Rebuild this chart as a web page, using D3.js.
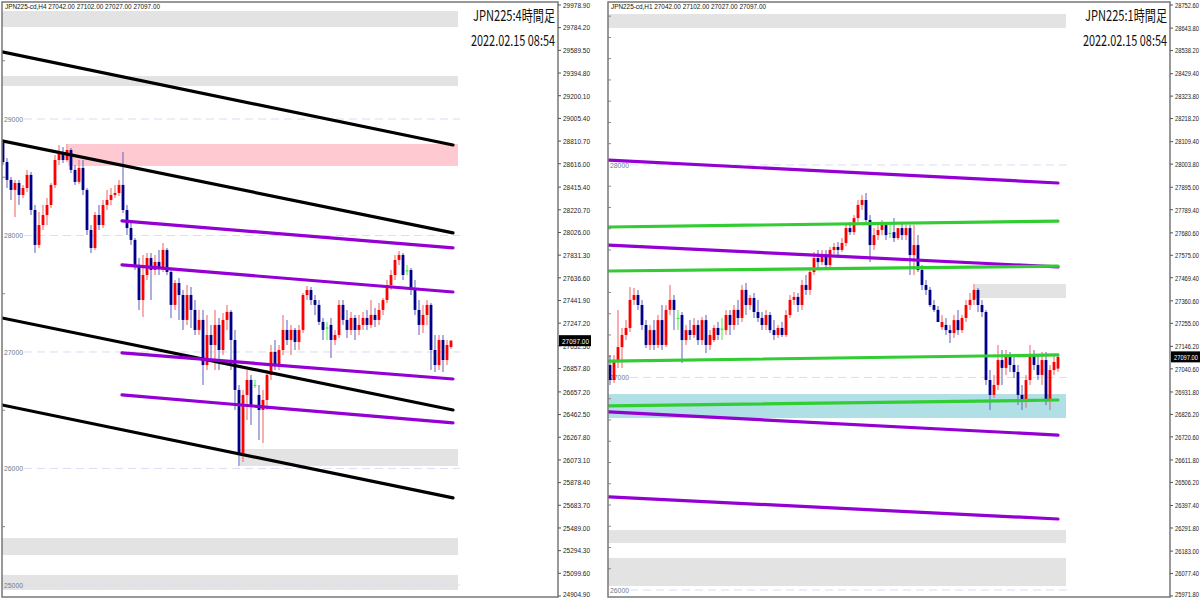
<!DOCTYPE html>
<html><head><meta charset="utf-8">
<script src="https://cdn.jsdelivr.net/npm/d3@7"></script>
<style>body{margin:0;background:#fff;}svg{display:block;}</style>
</head><body>
<svg id="c" width="1200" height="599"></svg>
<script>
// ---------------- DATA ----------------
// H4 chart (left)
const h4Open=[28794,28631,28477,28391,28451,28348,28408,28520,28219,27919,28090,28176,28262,28434,28648,28717,28648,28734,28563,28460,28580,28391,28047,27893,28176,28090,28262,28305,28348,28365,28434,28219,28064,27962,27747,27446,27661,27807,27704,27773,27721,27876,27687,27404,27592,27489,27275,27489,27361,27189,27275,26888,27146,27060,27232,27017,27275,27344,27103,26674,26116,26631,26760,26717,26631,26502,26588,26803,27000,26888,27017,27189,27103,27189,27086,27189,27489,27532,27446,27404,27258,27210,27232,27103,27146,27404,27275,27189,27292,27189,27232,27292,27232,27318,27275,27361,27446,27575,27661,27790,27833,27700,27704,27532,27361,27232,27318,27404,27017,26888,27103,26931,27042];
const h4High=[28820,28666,28503,28477,28477,28434,28563,28546,28262,28202,28262,28322,28451,28691,28777,28760,28786,28751,28605,28648,28648,28408,28090,28202,28262,28305,28391,28408,28434,28477,28717,28262,28116,27979,27807,27833,27850,27850,27833,27876,27936,27893,27721,27618,27635,27532,27575,27558,27446,27361,27361,27318,27232,27361,27292,27335,27404,27361,27189,26717,26674,26846,26803,26760,26717,26674,26846,27060,27103,27060,27318,27275,27232,27206,27232,27506,27566,27558,27489,27446,27292,27258,27292,27189,27446,27446,27361,27344,27318,27318,27344,27361,27446,27378,27421,27464,27618,27704,27833,27867,27850,27747,27721,27618,27446,27404,27446,27421,27146,27146,27146,27103,27102];
const h4Low=[28605,28408,28305,28159,28262,28322,28374,28176,27850,27893,28047,28090,28236,28408,28605,28622,28631,28537,28434,28443,28348,28004,27850,27876,28047,28064,28219,28262,28322,28340,28193,28004,27919,27704,27361,27301,27618,27446,27661,27661,27687,27661,27292,27361,27275,27189,27232,27206,27146,27146,26717,26846,26931,26846,26846,26974,27189,26846,26502,26021,26056,26416,26373,26690,26245,26219,26502,26760,26846,26846,26974,27060,26974,27017,27017,27163,27446,27404,27318,27232,27103,27103,26948,27060,27120,27232,27120,27146,27103,27146,27189,27189,27206,27215,27232,27318,27421,27532,27618,27747,27618,27661,27489,27318,27146,27163,27232,26846,26828,26846,26828,26888,27027];
const h4Close=[28631,28477,28391,28451,28348,28408,28520,28219,27919,28090,28176,28262,28434,28648,28717,28648,28734,28563,28460,28580,28391,28047,27893,28176,28090,28262,28305,28348,28365,28434,28219,28064,27962,27747,27446,27661,27807,27704,27773,27721,27876,27687,27404,27592,27489,27275,27489,27361,27189,27275,26888,27146,27060,27232,27017,27275,27344,27103,26674,26116,26631,26760,26545,26717,26502,26588,26803,27000,26888,27017,27189,27103,27189,27086,27189,27489,27532,27446,27404,27258,27189,27210,27103,27146,27404,27275,27189,27292,27189,27232,27292,27232,27318,27275,27361,27446,27575,27661,27790,27833,27661,27700,27532,27361,27232,27318,27404,27017,26888,27103,26931,27060,27097];
const h4Ticks=["29978.90","29784.20","29589.50","29394.80","29200.10","29005.40","28810.70","28616.00","28415.40","28220.70","28026.00","27831.30","27636.60","27441.90","27247.20","27052.50","26857.80","26657.20","26462.50","26267.80","26073.10","25878.40","25683.70","25489.00","25294.30","25099.60","24904.90"];
const h4Grid=[29000,28000,27000,26000,25000];
const h4Minor=[29500,28500,27500,26500,25500];
// trend lines: start bar, start price, end bar, end price, kind
const h4LineFrom=[-0.25,-0.25,-0.25,-0.25,29.75,29.75,29.75,29.75];
const h4LinePriceFrom=[29576,28812,27292,26545,28125,27747,26992,26631];
const h4LineTo=[112.5,112.5,112.5,112.5,112.5,112.5,112.5,112.5];
const h4LinePriceTo=[28777,28022,26502,25747,27893,27515,26768,26391];
const h4LineKind=["channel","channel","channel","channel","sub","sub","sub","sub"];
// zones: from bar, to bar, top price, bottom price, kind
const h4ZoneFrom=[-2,-2,16.25,59.25,-2,-2];
const h4ZoneTo=[113.75,113.75,113.75,113.75,113.75,113.75];
const h4ZoneTop=[29927,29369,28786,26167,25403,25086];
const h4ZoneBottom=[29790,29283,28597,26021,25257,24957];
const h4ZoneKind=["gray","gray","pink","gray","gray","gray"];

// H1 chart (right)
const h1Open=[27059,26988,27082,27143,27200,27233,27365,27388,27341,27247,27153,27223,27153,27270,27153,27318,27365,27280,27294,27176,27223,27200,27247,27176,27270,27153,27176,27233,27230,27223,27294,27247,27318,27280,27412,27341,27374,27308,27280,27247,27294,27223,27200,27233,27200,27294,27365,27379,27341,27435,27412,27496,27562,27543,27576,27529,27600,27614,27600,27633,27703,27684,27750,27812,27835,27741,27623,27670,27694,27717,27680,27684,27656,27703,27670,27703,27576,27623,27506,27435,27412,27341,27318,27237,27247,27223,27209,27270,27223,27280,27341,27365,27412,27341,27308,26988,26918,26965,27082,27045,27106,27059,27026,26918,26894,26988,27106,27059,27012,27082,26894,27035,27042];
const h1High=[27106,27106,27318,27233,27270,27426,27421,27412,27365,27270,27247,27270,27294,27341,27341,27435,27388,27318,27308,27247,27270,27280,27270,27284,27294,27223,27247,27261,27280,27318,27318,27341,27365,27435,27445,27388,27398,27365,27308,27318,27308,27270,27247,27261,27318,27388,27402,27398,27459,27482,27515,27590,27600,27600,27600,27614,27633,27638,27656,27722,27731,27765,27835,27859,27868,27765,27703,27717,27741,27731,27731,27750,27703,27731,27717,27717,27717,27670,27529,27459,27426,27365,27336,27294,27280,27247,27294,27318,27294,27365,27398,27440,27421,27365,27318,27035,27012,27153,27129,27129,27120,27106,27059,26965,27012,27153,27129,27106,27120,27120,27059,27106,27102];
const h1Low=[26965,26974,27045,27045,27176,27214,27341,27318,27223,27139,27129,27129,27139,27129,27143,27294,27223,27223,27068,27153,27176,27186,27153,27153,27115,27129,27167,27176,27176,27200,27200,27223,27247,27261,27294,27318,27280,27261,27223,27223,27209,27176,27186,27190,27190,27280,27341,27308,27318,27388,27388,27482,27515,27529,27515,27515,27581,27576,27590,27618,27670,27670,27731,27788,27717,27543,27600,27647,27670,27647,27656,27637,27647,27647,27647,27482,27482,27496,27412,27388,27332,27308,27261,27223,27200,27162,27186,27200,27209,27261,27318,27341,27308,27284,26965,26847,26904,26941,26965,27012,27026,26998,26871,26847,26857,26965,27035,26988,26965,26871,26847,27012,27027];
const h1Close=[26988,27082,27143,27200,27233,27365,27388,27341,27247,27153,27223,27153,27270,27153,27318,27365,27318,27280,27176,27223,27200,27247,27176,27270,27153,27200,27233,27200,27230,27294,27247,27318,27280,27412,27341,27374,27308,27280,27247,27294,27223,27200,27233,27200,27294,27365,27379,27341,27435,27412,27496,27562,27543,27576,27529,27600,27614,27600,27633,27703,27684,27750,27812,27835,27741,27623,27670,27694,27717,27670,27680,27656,27703,27670,27703,27576,27623,27506,27435,27412,27341,27318,27261,27261,27223,27209,27270,27223,27280,27341,27365,27412,27341,27308,26988,26918,26965,27082,27045,27106,27059,27026,26918,26894,26988,27106,27059,27012,27082,26894,27035,27073,27097];
const h1Ticks=["28752.60","28643.80","28538.20","28429.40","28323.80","28218.20","28109.40","28003.80","27895.00","27789.40","27680.60","27575.00","27469.40","27360.60","27255.00","27146.20","27040.60","26931.80","26826.20","26720.60","26611.80","26506.20","26397.40","26291.80","26183.00","26077.40","25971.80"];
const h1Grid=[28000,27000,26000];
const h1Minor=[28700,28600,28500,28400,28300,28200,28100,27900,27800,27700,27600,27500,27400,27300,27200,27100,26900,26800,26700,26600,26500,26400,26300,26200,26100];
const h1LineFrom=[-0.25,-0.25,-0.25,-0.25,-0.25,-0.25,-0.25,-0.25];
const h1LinePriceFrom=[28023,27623,26838,26438,27708,27501,27077,26866];
const h1LineTo=[112,112,112,112,112,112,112,112];
const h1LinePriceTo=[27915,27520,26729,26334,27736,27524,27106,26894];
const h1LineKind=["sub","sub","sub","sub","level","level","level","level"];
const h1ZoneFrom=[-0.5,91.25,-0.5,-0.5,-0.5];
const h1ZoneTo=[114,114,114,114,114];
const h1ZoneTop=[28710,27440,26922,26282,26151];
const h1ZoneBottom=[28644,27374,26809,26221,26019];
const h1ZoneKind=["gray","gray","cyan","gray","gray"];

const h4Title="JPN225:4時間足", h1Title="JPN225:1時間足";
const stamp="2022.02.15 08:54";
const h4Header="JPN225-cd,H4  27042.00 27102.00 27027.00 27097.00";
const h1Header="JPN225-cd,H1  27042.00 27102.00 27027.00 27097.00";

// ---------------- DRAW ----------------
const svg=d3.select('#c');
const zoneColor={gray:"#e3e3e3",pink:"#ffc9d1",cyan:"#b0e0e6"};
const lineColor={channel:"#000000",sub:"#9400d3",level:"#32cd32"};

function drawPanel(p){
  const g=svg.append('g');
  const id='clip'+p.key;
  svg.append('clipPath').attr('id',id).append('rect')
    .attr('x',p.left).attr('y',p.top).attr('width',p.right-p.left).attr('height',p.bottom-p.top);
  const x=d3.scaleLinear().domain([0,p.open.length-1]).range([p.barX0,p.barX1]);
  const y=d3.scaleLinear().domain(p.yDomain).range([5,596]);
  const plot=g.append('g').attr('clip-path',`url(#${id})`);
  // zones
  plot.selectAll('rect.z').data(p.zoneTop.map((t,i)=>i)).join('rect')
    .attr('x',i=>x(p.zoneFrom[i])).attr('width',i=>x(p.zoneTo[i])-x(p.zoneFrom[i]))
    .attr('y',i=>y(p.zoneTop[i])).attr('height',i=>y(p.zoneBottom[i])-y(p.zoneTop[i]))
    .attr('fill',i=>zoneColor[p.zoneKind[i]]);
  // grid
  p.grid.forEach(v=>{
    plot.append('line').attr('x1',p.left+22).attr('x2',x(p.zoneTo[0])+2)
      .attr('y1',y(v)).attr('y2',y(v)).attr('stroke','#dcdcf4').attr('stroke-width',1)
      .attr('stroke-dasharray','8,5');
    plot.append('text').attr('x',p.left+2).attr('y',y(v)+3).text(String(v))
      .attr('font-family','Liberation Sans, Arial, sans-serif').attr('font-size',8)
      .attr('fill','#6c7c8c').attr('textLength',19).attr('lengthAdjust','spacingAndGlyphs');
  });
  p.minor.forEach(v=>{
    plot.append('line').attr('x1',p.left).attr('x2',p.left+3).attr('y1',y(v)).attr('y2',y(v))
      .attr('stroke','#888').attr('stroke-width',1);
  });
  // candles
  const idx=p.open.map((d,i)=>i);
  const cg=plot.append('g');
  idx.forEach(i=>{
    const o=p.open[i],c=p.close[i],h=p.high[i],l=p.low[i];
    const doji=o===c, bull=c>o;
    const wick=doji?"#55ee55":(bull?"#f06c6c":"#6c6cc0");
    const body=doji?"#33dd33":(bull?"#ff0000":"#000088");
    cg.append('line').attr('x1',x(i)).attr('x2',x(i)).attr('y1',y(h)).attr('y2',y(l))
      .attr('stroke',wick).attr('stroke-width',1.1);
    const yt=y(Math.max(o,c)), yb=y(Math.min(o,c));
    cg.append('rect').attr('x',x(i)-1.4).attr('width',2.8)
      .attr('y',yt).attr('height',Math.max(1,yb-yt)).attr('fill',body);
  });
  // lines
  p.lineFrom.forEach((f,i)=>{
    plot.append('line').attr('x1',x(f)).attr('y1',y(p.linePFrom[i]))
      .attr('x2',x(p.lineTo[i])).attr('y2',y(p.linePTo[i]))
      .attr('stroke',lineColor[p.lineKind[i]]).attr('stroke-width',3.2).attr('stroke-linecap','round');
  });
  // frame
  g.append('rect').attr('x',p.left).attr('y',p.top).attr('width',p.right-p.left).attr('height',p.bottom-p.top)
    .attr('fill','none').attr('stroke','#777').attr('stroke-width',1.5);
  // header
  g.append('text').attr('x',p.left+3).attr('y',9).text(p.header)
    .attr('font-family','Liberation Sans, Arial, sans-serif').attr('font-size',7).attr('fill','#111')
    .attr('textLength',155).attr('lengthAdjust','spacingAndGlyphs');
  // titles
  g.append('text').attr('x',p.right-3).attr('y',21).attr('text-anchor','end').text(p.title)
    .attr('font-family','Noto Sans CJK JP, sans-serif').attr('font-size',15).attr('fill','#111')
    .attr('textLength',82).attr('lengthAdjust','spacingAndGlyphs');
  g.append('text').attr('x',p.right-3).attr('y',46).attr('text-anchor','end').text(stamp)
    .attr('font-family','Noto Sans CJK JP, sans-serif').attr('font-size',15).attr('fill','#111')
    .attr('textLength',84).attr('lengthAdjust','spacingAndGlyphs');
  // axis ticks
  const ax=g.append('g');
  p.ticks.forEach(t=>{
    const v=+t;
    ax.append('line').attr('x1',p.right).attr('x2',p.right+3).attr('y1',y(v)).attr('y2',y(v)).attr('stroke','#555');
    ax.append('text').attr('x',p.right+5).attr('y',Math.min(y(v)+2.8,597)).text(t)
      .attr('font-family','Liberation Sans, Arial, sans-serif').attr('font-size',7.5).attr('fill','#222')
      .attr('textLength',p.labelW).attr('lengthAdjust','spacingAndGlyphs');
  });
  // current price box
  const last=p.close[p.close.length-1];
  ax.append('rect').attr('x',p.right+1).attr('y',y(last)-5.5).attr('width',p.labelW+5).attr('height',11).attr('fill','#000');
  ax.append('text').attr('x',p.right+4).attr('y',y(last)+3).text(last.toFixed(2))
    .attr('font-family','Liberation Sans, Arial, sans-serif').attr('font-size',7.5).attr('fill','#fff')
    .attr('textLength',p.labelW).attr('lengthAdjust','spacingAndGlyphs');
}

drawPanel({key:'h4',left:2,right:558,top:2,bottom:597,barX0:3,barX1:451,labelW:27,
  yDomain:[+h4Ticks[0],+h4Ticks[h4Ticks.length-1]],
  open:h4Open,high:h4High,low:h4Low,close:h4Close,ticks:h4Ticks,grid:h4Grid,minor:h4Minor,
  lineFrom:h4LineFrom,linePFrom:h4LinePriceFrom,lineTo:h4LineTo,linePTo:h4LinePriceTo,lineKind:h4LineKind,
  zoneFrom:h4ZoneFrom,zoneTo:h4ZoneTo,zoneTop:h4ZoneTop,zoneBottom:h4ZoneBottom,zoneKind:h4ZoneKind,
  title:h4Title,header:h4Header});
drawPanel({key:'h1',left:608,right:1170,top:2,bottom:597,barX0:610,barX1:1058,labelW:24,
  yDomain:[+h1Ticks[0],+h1Ticks[h1Ticks.length-1]],
  open:h1Open,high:h1High,low:h1Low,close:h1Close,ticks:h1Ticks,grid:h1Grid,minor:h1Minor,
  lineFrom:h1LineFrom,linePFrom:h1LinePriceFrom,lineTo:h1LineTo,linePTo:h1LinePriceTo,lineKind:h1LineKind,
  zoneFrom:h1ZoneFrom,zoneTo:h1ZoneTo,zoneTop:h1ZoneTop,zoneBottom:h1ZoneBottom,zoneKind:h1ZoneKind,
  title:h1Title,header:h1Header});
</script>
</body></html>
